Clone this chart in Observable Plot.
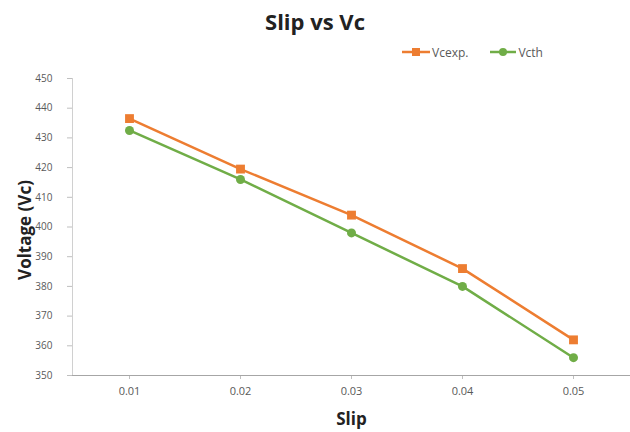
<!DOCTYPE html>
<html>
<head>
<meta charset="utf-8">
<script src="https://cdn.jsdelivr.net/npm/d3@7"></script>
<script src="https://cdn.jsdelivr.net/npm/@observablehq/plot@0.6"></script>
<style>
  html, body { margin: 0; padding: 0; background: #fff; }
  #wrap { position: relative; width: 630px; height: 432px; font-family: "Open Sans", sans-serif; overflow: hidden; }
  #title { position: absolute; left: 0; top: 10px; width: 630px; text-align: center; font-weight: bold; font-size: 22px; line-height: 22px; color: #222; }
  #legend { position: absolute; left: 402px; top: 44px; height: 16px; display: flex; align-items: center; font-size: 12px; color: #595959; }
  .item { display: flex; align-items: center; margin-right: 22px; }
  .item svg { margin-right: 2px; }
  #chart { position: absolute; left: 0; top: 65px; }
</style>
</head>
<body>
<div id="wrap">
  <div id="title">Slip vs Vc</div>
  <div id="legend"></div>
  <div id="chart"></div>
</div>
<script>
const slips = ["0.01", "0.02", "0.03", "0.04", "0.05"];
const vcExp = [436.5, 419.5, 404, 386, 362];
const vcTh = [432.5, 416, 398, 380, 356];
const seriesNames = ["Vcexp.", "Vcth"];
const seriesColors = ["#ED7D31", "#70AD47"];
const yTicks = [350, 360, 370, 380, 390, 400, 410, 420, 430, 440, 450];

const expData = slips.map((s, i) => ({slip: s, v: vcExp[i]}));
const thData = slips.map((s, i) => ({slip: s, v: vcTh[i]}));

// legend
const legend = document.getElementById("legend");
seriesNames.forEach((name, i) => {
  const item = document.createElement("div");
  item.className = "item";
  const shape = i === 0
    ? `<rect x="10" y="4" width="8" height="8" fill="${seriesColors[i]}"/>`
    : `<circle cx="13" cy="8" r="4" fill="${seriesColors[i]}"/>`;
  const w = i === 0 ? 28 : 26;
  item.innerHTML = `<svg width="${w}" height="16"><line x1="0" y1="8" x2="${w}" y2="8" stroke="${seriesColors[i]}" stroke-width="2.5"/>${shape}</svg><span>${name}</span>`;
  legend.appendChild(item);
});

const chart = Plot.plot({
  width: 630,
  height: 367,
  marginLeft: 72,
  marginRight: 0,
  marginTop: 13,
  marginBottom: 57,
  style: {fontFamily: "Open Sans, sans-serif", fontSize: "10px", color: "#595959", background: "#fff"},
  x: {type: "point", domain: slips, padding: 0.5, label: null},
  y: {domain: [350, 450], label: null},
  marks: [
    Plot.frame({anchor: "left", stroke: "#d0d0d0"}),
    Plot.axisY({ticks: yTicks, tickSize: 5, tickPadding: 15, stroke: "#bfbfbf", label: null, fill: "#595959"}),
    Plot.axisX({tickSize: 4, tickPadding: 8, stroke: "#bfbfbf", label: null, fill: "#595959", fontSize: 11}),
    Plot.ruleY([350], {stroke: "#a6a6a6", strokeWidth: 1}),
    Plot.lineY(expData, {x: "slip", y: "v", stroke: seriesColors[0], strokeWidth: 2.5}),
    Plot.lineY(thData, {x: "slip", y: "v", stroke: seriesColors[1], strokeWidth: 2.5}),
    Plot.dot(expData, {x: "slip", y: "v", symbol: "square", r: 5, fill: seriesColors[0], stroke: null}),
    Plot.dot(thData, {x: "slip", y: "v", symbol: "circle", r: 4.5, fill: seriesColors[1], stroke: null}),
    Plot.text(["Slip"], {frameAnchor: "bottom", lineAnchor: "middle", dy: 44, fontWeight: "bold", fontSize: 17, fill: "#222"}),
    Plot.text(["Voltage (Vc)"], {frameAnchor: "left", textAnchor: "middle", lineAnchor: "middle", dx: -47, dy: 3, rotate: -90, fontWeight: "bold", fontSize: 17, fill: "#222"})
  ]
});
document.getElementById("chart").appendChild(chart);
</script>
</body>
</html>
